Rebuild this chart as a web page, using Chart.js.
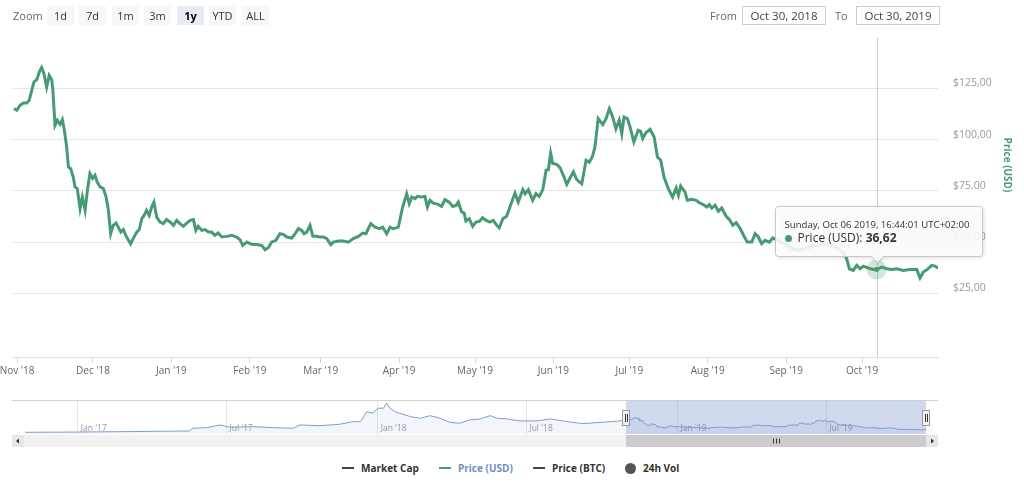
<!DOCTYPE html>
<html>
<head>
<meta charset="utf-8">
<script src="https://cdn.jsdelivr.net/npm/chart.js@4.4.0/dist/chart.umd.min.js"></script>
<style>
  body { margin:0; width:1024px; height:484px; background:#fff; font-family:'Open Sans', sans-serif; overflow:hidden; position:relative; }
  canvas { position:absolute; left:0; }
  #main { top:0; }
  #nav { top:390px; }
  .lbl { position:absolute; top:6px; line-height:19px; font-size:11px; color:#666; }
  .btn { position:absolute; top:6px; width:27px; height:19px; line-height:19px; text-align:center; font-size:11px; background:#f7f7f7; color:#333; }
  .btn.on { background:#e6ebf5; color:#000; font-weight:bold; }
  .inp { position:absolute; top:6px; height:19px; line-height:17px; border:1px solid #ccc; box-sizing:border-box; text-align:center; font-size:11.5px; color:#444; }
  .leg { position:absolute; top:461px; height:14px; line-height:14px; font-size:10px; font-weight:bold; color:#333; display:flex; align-items:center; }
  .leg i { display:inline-block; width:12px; height:2px; margin-right:7px; }
  .leg b { display:inline-block; width:11px; height:11px; border-radius:50%; background:#555; margin-right:7px; }
</style>
</head>
<body>
<canvas id="main" width="1024" height="390"></canvas>
<canvas id="nav" width="1024" height="60"></canvas>

<div class="lbl" style="left:13px">Zoom</div>
<div class="btn" style="left:47px">1d</div>
<div class="btn" style="left:79px">7d</div>
<div class="btn" style="left:112px">1m</div>
<div class="btn" style="left:144px">3m</div>
<div class="btn on" style="left:177px">1y</div>
<div class="btn" style="left:209px">YTD</div>
<div class="btn" style="left:242px">ALL</div>

<div class="lbl" style="left:710px">From</div>
<div class="inp" style="left:742px;width:84px">Oct 30, 2018</div>
<div class="lbl" style="left:835px">To</div>
<div class="inp" style="left:856px;width:84px">Oct 30, 2019</div>

<div class="leg" style="left:342px"><i style="background:#444"></i>Market Cap</div>
<div class="leg" style="left:439px;color:#6f8fc0"><i style="background:#4a9a78"></i>Price (USD)</div>
<div class="leg" style="left:533px"><i style="background:#444"></i>Price (BTC)</div>
<div class="leg" style="left:625px"><b></b>24h Vol</div>

<script>
// days counted from Oct 30 2018
const dayOffsets = [0.8,1.9,3.2,4.5,5.8,6.8,7.8,8.7,9.8,10.8,
  11.7,12.6,13.7,14.7,15.7,16.1,17.0,17.9,19.0,19.9,
  20.7,21.6,22.3,23.2,24.2,24.9,25.8,26.9,27.8,28.9,
  29.8,30.8,31.9,32.8,33.7,34.8,36.1,37.2,38.1,39.0,
  40.0,41.1,42.0,43.0,44.0,45.3,46.9,47.9,49.3,50.3,
  51.3,52.2,53.2,54.2,55.2,56.1,57.2,58.5,59.8,61.1,
  62.5,63.8,65.1,66.4,67.7,69.1,70.4,71.7,72.7,73.6,
  75.0,76.3,77.6,78.9,80.2,81.5,82.9,84.9,86.8,88.8,
  90.1,91.2,92.8,94.7,96.7,98.7,100.0,101.3,102.6,104.3,
  105.9,107.2,108.6,110.6,111.9,113.2,114.5,115.4,116.5,117.8,
  118.9,120.4,121.7,123.0,124.4,126.0,127.0,129.0,131.0,132.9,
  134.9,136.9,138.6,139.9,141.8,143.5,145.2,146.5,148.1,149.4,
  150.7,152.7,154.4,156.0,157.0,158.0,159.3,160.2,161.9,163.2,
  164.2,165.2,166.5,168.5,169.8,171.1,172.8,174.2,175.5,176.4,
  177.7,178.7,179.4,180.7,182.1,183.4,184.7,186.0,187.4,188.9,
  190.2,191.6,192.6,194.0,195.5,196.8,198.8,200.1,201.9,202.8,
  204.1,205.8,207.1,208.4,209.8,211.1,212.0,212.9,213.7,215.3,
  216.6,217.9,219.3,220.6,221.9,223.2,225.2,226.9,228.2,229.5,
  230.4,231.7,233.5,234.8,236.1,237.4,238.7,240.0,241.0,241.9,
  243.2,244.3,245.8,247.5,248.5,249.3,250.6,252.2,253.8,255.1,
  256.4,257.7,259.4,261.1,262.5,263.4,264.3,266.0,266.9,268.7,
  270.4,271.7,273.2,274.6,275.6,276.6,277.9,279.2,280.5,282.2,
  283.5,284.9,286.2,287.7,289.3,290.6,292.4,293.7,295.0,296.3,
  297.6,299.3,300.7,304.9,310.2,315.4,320.7,324.6,328.6,329.9,
  331.0,332.5,333.9,335.2,336.5,338.5,340.5,341.7,343.8,345.7,
  347.7,349.7,352.3,354.9,357.6,358.9,360.2,361.8,363.5,364.8,
  366.0];
const prices = [115.1,114.3,116.7,117.8,117.8,119.1,124.0,128.1,129.2,133.0,
  135.1,132.2,125.6,131.3,129.2,124.9,107.0,109.4,107.4,109.7,
  104.5,96.4,86.6,85.8,81.7,76.9,76.1,66.3,72.0,65.5,
  75.2,83.4,81.0,82.6,79.3,76.9,76.1,72.0,65.5,54.1,
  58.2,59.3,57.3,54.9,56.1,52.5,49.2,51.7,54.9,56.1,
  61.4,63.0,65.5,63.0,67.1,69.5,62.2,59.8,59.0,61.0,
  59.8,58.2,60.6,59.0,57.7,59.3,60.6,61.0,55.7,57.7,
  55.7,56.1,54.9,54.9,53.3,54.4,52.5,52.8,53.3,52.5,
  51.2,48.4,50.0,48.9,48.8,48.4,46.3,47.3,50.0,50.9,
  54.1,53.8,52.5,52.0,54.1,56.6,55.7,54.1,54.9,58.2,
  52.8,52.8,52.5,52.5,51.7,48.8,50.0,50.5,50.5,50.0,
  51.7,52.8,54.4,54.1,59.0,57.3,56.6,57.3,54.1,57.3,
  56.6,57.3,67.1,73.6,68.8,72.0,71.2,72.3,72.0,72.3,
  67.1,70.4,69.0,68.4,67.4,70.7,69.5,67.4,67.9,69.5,
  64.7,64.2,60.3,61.4,57.7,59.8,60.1,61.9,60.6,59.8,
  60.6,58.2,57.0,61.4,62.6,67.1,73.9,69.5,75.6,73.6,
  75.6,70.4,73.6,72.3,75.6,85.0,85.3,93.4,88.3,87.9,
  86.3,82.6,78.2,81.4,84.2,80.5,78.5,89.9,89.0,92.0,
  96.4,110.2,107.3,110.2,115.1,111.0,105.3,109.4,102.9,111.0,
  110.2,106.1,98.8,104.5,104.0,100.5,103.4,105.0,101.2,91.5,
  89.9,81.7,76.1,72.0,76.4,72.8,77.3,74.4,70.4,70.9,
  70.4,69.2,68.3,67.1,68.3,66.6,67.9,65.0,66.6,62.7,
  61.1,58.2,59.5,56.9,53.0,50.0,50.0,54.1,52.5,49.2,
  50.9,50.0,52.0,49.2,46.0,47.6,49.2,48.4,45.1,41.9,
  37.0,36.2,38.7,37.0,38.3,37.3,36.7,36.62,37.8,37.0,
  36.7,37.0,36.2,36.7,36.7,32.5,35.4,36.7,38.7,38.3,
  37.3];

const monthDays = [2,32,63,94,122,153,183,214,244,275,306,336];
const monthLabels = ["Nov '18","Dec '18","Jan '19","Feb '19","Mar '19","Apr '19","May '19","Jun '19","Jul '19","Aug '19","Sep '19","Oct '19"];
const yTicks = [25,50,75,100,125];

// navigator: older history before the selected year
const navDays = [-731,-665,-600,-531,-527,-510,-494,-482,-454,-429,-405,-397,-372,-348,-332,-323,-315,-308,-302,-295,-291,-287,-281,-275,-262,-250,-238,-226,-214,-202,-190,-177,-165,-157,-144,-129,-108,-92,-71,-52,-31,-10];
const navPrices = [14,16,20,25,47,52,74,55,60,52,47,74,68,80,101,101,183,170,211,211,252,211,183,170,142,129,150,129,96,88,115,123,150,129,123,107,107,123,101,85,95,105];
const navTickDays = [-667,-486,-302,-121,63,244];
const navTickLabels = ["Jan '17","Jul '17","Jan '18","Jul '18","Jan '19","Jul '19"];
const rangeFrom = 0, rangeTo = 366;

const hoverIndex = 247;
const hoverHeader = 'Sunday, Oct 06 2019, 16:44:01 UTC+02:00';
const seriesName = 'Price (USD)';

const GREEN = '#469a74';
const money = v => v.toFixed(2).replace('.', ',');

const hoverPlugin = {
  id: 'hover',
  beforeDatasetsDraw(chart) {
    const { ctx, chartArea: a } = chart;
    const px = Math.round(chart.scales.x.getPixelForValue(dayOffsets[hoverIndex])) + 0.5;
    ctx.save();
    ctx.strokeStyle = '#cccccc'; ctx.lineWidth = 1;
    ctx.beginPath(); ctx.moveTo(px, a.top); ctx.lineTo(px, a.bottom); ctx.stroke();
    ctx.restore();
  },
  afterDraw(chart) {
    const { ctx } = chart;
    const px = chart.scales.x.getPixelForValue(dayOffsets[hoverIndex]);
    const py = chart.scales.y.getPixelForValue(prices[hoverIndex]);
    ctx.save();
    // halo + marker
    ctx.fillStyle = 'rgba(70,154,116,0.25)';
    ctx.beginPath(); ctx.arc(px, py, 10, 0, Math.PI * 2); ctx.fill();
    ctx.fillStyle = GREEN;
    ctx.beginPath(); ctx.arc(px, py, 2.5, 0, Math.PI * 2); ctx.fill();

    // tooltip box with caret
    const w = 207, h = 50, r = 3;
    const cx = Math.round(px) + 0.5;
    const left = Math.round(px - 102) + 0.5, top = Math.round(py - 64) + 0.5;
    const right = left + w, bottom = top + h;
    ctx.beginPath();
    ctx.moveTo(left + r, top);
    ctx.lineTo(right - r, top); ctx.arcTo(right, top, right, top + r, r);
    ctx.lineTo(right, bottom - r); ctx.arcTo(right, bottom, right - r, bottom, r);
    ctx.lineTo(cx + 6, bottom); ctx.lineTo(cx, bottom + 6); ctx.lineTo(cx - 6, bottom);
    ctx.lineTo(left + r, bottom); ctx.arcTo(left, bottom, left, bottom - r, r);
    ctx.lineTo(left, top + r); ctx.arcTo(left, top, left + r, top, r);
    ctx.closePath();
    ctx.shadowColor = 'rgba(0,0,0,0.18)'; ctx.shadowBlur = 4; ctx.shadowOffsetX = 1; ctx.shadowOffsetY = 1;
    ctx.fillStyle = 'rgba(255,255,255,0.88)';
    ctx.fill();
    ctx.shadowColor = 'transparent';
    ctx.strokeStyle = '#c8c8c8'; ctx.lineWidth = 1; ctx.stroke();

    ctx.textBaseline = 'middle';
    ctx.fillStyle = '#333';
    ctx.font = '9.6px "Open Sans"';
    ctx.fillText(hoverHeader, left + 9, top + 19);
    ctx.fillStyle = GREEN;
    ctx.beginPath(); ctx.arc(left + 13, top + 32, 3.5, 0, Math.PI * 2); ctx.fill();
    ctx.fillStyle = '#333';
    ctx.font = '12px "Open Sans"';
    const lab = seriesName + ': ';
    ctx.fillText(lab, left + 22, top + 32);
    const lw = ctx.measureText(lab).width;
    ctx.font = 'bold 12px "Open Sans"';
    ctx.fillText(money(prices[hoverIndex]), left + 22 + lw, top + 32);

    // axis title
    ctx.translate(chart.width - 17.5, chart.chartArea.top + 127);
    ctx.rotate(Math.PI / 2);
    ctx.textAlign = 'center';
    ctx.font = 'bold 10px "Open Sans"';
    ctx.fillStyle = '#4a9a78';
    ctx.fillText(seriesName, 0, 0);
    ctx.restore();
  }
};

new Chart(document.getElementById('main'), {
  type: 'line',
  data: {
    datasets: [{
      data: dayOffsets.map((d, i) => ({ x: d, y: prices[i] })),
      borderColor: GREEN, borderWidth: 3, pointRadius: 0, tension: 0, fill: false
    }]
  },
  options: {
    responsive: false, animation: false,
    layout: { padding: { left: 12, top: 38, right: 0, bottom: 0 } },
    plugins: { legend: { display: false }, tooltip: { enabled: false } },
    scales: {
      x: {
        type: 'linear', min: 0, max: 366,
        afterBuildTicks: s => { s.ticks = monthDays.map(v => ({ value: v })); },
        afterFit: s => { s.height = 33; s.paddingLeft = 0; s.paddingRight = 0; },
        grid: { drawOnChartArea: false, drawTicks: true, tickLength: 6, tickColor: '#d6d6d6' },
        border: { color: '#e0e0e0' },
        ticks: { autoSkip: false, maxRotation: 0, padding: 2, color: '#666', font: { family: 'Open Sans', size: 10 },
                 callback: (v, i) => monthLabels[i] }
      },
      y: {
        position: 'right', min: -6, max: 149.5,
        afterBuildTicks: s => { s.ticks = yTicks.map(v => ({ value: v })); },
        afterFit: s => { s.width = 86; s.paddingTop = 0; s.paddingBottom = 0; },
        grid: { color: '#e6e6e6', drawTicks: false },
        border: { display: false },
        ticks: { padding: 15, labelOffset: -5, color: '#999', font: { family: 'Open Sans', size: 10.5 },
                 callback: v => '$' + money(v) }
      }
    }
  },
  plugins: [hoverPlugin]
});

const navPlugin = {
  id: 'navDecor',
  beforeDatasetsDraw(chart) {
    const { ctx, chartArea: a } = chart;
    const xs = chart.scales.x;
    ctx.save();
    ctx.font = '8.5px "Open Sans"'; ctx.fillStyle = '#999'; ctx.textBaseline = 'middle';
    navTickDays.forEach((d, i) => ctx.fillText(navTickLabels[i], xs.getPixelForValue(d) + 3, a.bottom - 5));
    ctx.restore();
  },
  afterDatasetsDraw(chart) {
    const { ctx, chartArea: a } = chart;
    const xs = chart.scales.x;
    const x0 = Math.round(xs.getPixelForValue(rangeFrom)), x1 = Math.round(xs.getPixelForValue(rangeTo));
    ctx.save();
    // selected range mask
    ctx.fillStyle = 'rgba(102,133,194,0.3)';
    ctx.fillRect(x0, a.top, x1 - x0, a.bottom - a.top);
    // outline
    ctx.strokeStyle = '#d0d0d0'; ctx.lineWidth = 1;
    ctx.beginPath(); ctx.moveTo(a.left, a.top - 0.5); ctx.lineTo(a.right, a.top - 0.5); ctx.stroke();

    // scrollbar
    const sy = a.bottom + 1, sh = 12;
    ctx.fillStyle = '#f2f2f2'; ctx.fillRect(a.left, sy, a.right - a.left, sh);
    ctx.fillStyle = '#cccccc'; ctx.fillRect(x0, sy, x1 - x0, sh);
    ctx.fillStyle = '#e6e6e6';
    ctx.fillRect(a.left, sy, 12, sh); ctx.fillRect(a.right - 12, sy, 12, sh);
    ctx.fillStyle = '#333';
    const my = sy + sh / 2;
    ctx.beginPath(); ctx.moveTo(a.left + 4, my); ctx.lineTo(a.left + 7, my - 2.5); ctx.lineTo(a.left + 7, my + 2.5); ctx.fill();
    ctx.beginPath(); ctx.moveTo(a.right - 4, my); ctx.lineTo(a.right - 7, my - 2.5); ctx.lineTo(a.right - 7, my + 2.5); ctx.fill();
    ctx.strokeStyle = '#333';
    const gx = Math.round((x0 + x1) / 2);
    [-3, 0, 3].forEach(o => { ctx.beginPath(); ctx.moveTo(gx + o + 0.5, my - 2.5); ctx.lineTo(gx + o + 0.5, my + 2.5); ctx.stroke(); });

    // handles
    const hy = Math.round((a.top + a.bottom) / 2);
    [x0, x1].forEach(x => {
      ctx.fillStyle = '#f2f2f2'; ctx.strokeStyle = '#999';
      ctx.fillRect(x - 3.5, hy - 7.5, 7, 15);
      ctx.strokeRect(x - 3.5, hy - 7.5, 7, 15);
      ctx.strokeStyle = '#333';
      ctx.beginPath();
      ctx.moveTo(x - 0.5, hy - 4); ctx.lineTo(x - 0.5, hy + 4);
      ctx.moveTo(x + 1.5, hy - 4); ctx.lineTo(x + 1.5, hy + 4);
      ctx.stroke();
    });
    ctx.restore();
  }
};

const navX = navDays.concat(dayOffsets);
const navY = navPrices.concat(prices);

new Chart(document.getElementById('nav'), {
  type: 'line',
  data: {
    datasets: [{
      data: navX.map((d, i) => ({ x: d, y: navY[i] })),
      borderColor: '#7d9fcc', borderWidth: 1, pointRadius: 0, tension: 0,
      fill: 'origin', backgroundColor: 'rgba(124,160,210,0.1)'
    }]
  },
  options: {
    responsive: false, animation: false,
    layout: { padding: { left: 12, right: 86, top: 11, bottom: 16 } },
    plugins: { legend: { display: false }, tooltip: { enabled: false } },
    scales: {
      x: {
        type: 'linear', min: -747, max: 380,
        afterBuildTicks: s => { s.ticks = navTickDays.map(v => ({ value: v })); },
        afterFit: s => { s.height = 0; s.paddingLeft = 0; s.paddingRight = 0; },
        ticks: { display: false },
        grid: { color: '#e6e6e6', drawTicks: false },
        border: { display: false }
      },
      y: { display: false, min: 0, max: 270 }
    }
  },
  plugins: [navPlugin]
});
</script>
</body>
</html>
